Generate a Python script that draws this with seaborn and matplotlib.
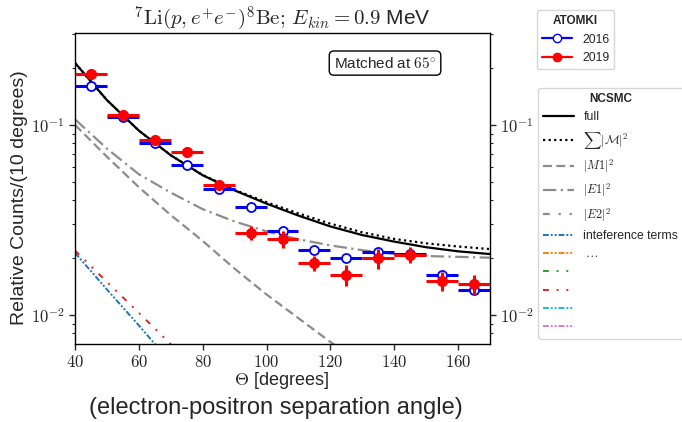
import numpy as np
import pandas as pd
import matplotlib
matplotlib.use("Agg")
import matplotlib.pyplot as plt
from matplotlib.lines import Line2D
from matplotlib.ticker import FuncFormatter, LogLocator, NullFormatter, FixedLocator
import seaborn as sns

# ---------------- data ----------------
theta_data = [45, 55, 65, 75, 85, 95, 105, 115, 125, 135, 145, 155, 165]
theta_halfwidth = [5] * 13
atomki_2016 = [0.160, 0.110, 0.0804, 0.0617, 0.0460, 0.0370, 0.0277, 0.0220, 0.0200, 0.0215, 0.0210, 0.0162, 0.0135]
atomki_2016_err = [0.004, 0.003, 0.002, 0.0015, 0.0012, 0.001, 0.0008, 0.0007, 0.0006, 0.0006, 0.0006, 0.0005, 0.0004]
atomki_2019 = [0.185, 0.113, 0.0834, 0.0721, 0.0483, 0.0270, 0.0251, 0.0188, 0.0162, 0.0199, 0.0207, 0.0151, 0.0145]
atomki_2019_err = [0.005, 0.003, 0.003, 0.003, 0.0025, 0.0023, 0.0025, 0.0017, 0.002, 0.0024, 0.002, 0.0018, 0.0018]

theta_curve = [40, 50, 60, 70, 80, 90, 100, 110, 120, 130, 140, 150, 160, 170]
full = [0.212, 0.135, 0.0933, 0.0692, 0.0543, 0.0452, 0.0385, 0.0333, 0.0292, 0.0263, 0.0243, 0.0227, 0.0216, 0.0209]
sum_m2 = [0.212, 0.135, 0.0933, 0.0692, 0.0545, 0.0455, 0.0392, 0.0342, 0.0302, 0.0272, 0.0251, 0.0238, 0.0229, 0.0222]
m1 = [0.100, 0.068, 0.047, 0.0335, 0.0245, 0.0175, 0.0128, 0.0096, 0.0072, 0.0055, 0.0043, 0.0034, 0.0027, 0.0022]
e1 = [0.107, 0.075, 0.055, 0.044, 0.036, 0.031, 0.0275, 0.025, 0.0232, 0.0219, 0.0209, 0.0204, 0.0202, 0.0200]

theta_interf = [40, 50, 60, 70, 80]
interf_blue = [0.0212, 0.0136, 0.0088, 0.0056, 0.0036]
interf_red = [0.0218, 0.0149, 0.01025, 0.0070, 0.0048]

ncsmc_labels = ["full", r"$\sum|\mathcal{M}|^2$", r"$|M1|^2$", r"$|E1|^2$", r"$|E2|^2$",
                "inteference terms", r"$\dots$", "", "", "", ""]

# ---------------- style ----------------
sns.set_style("ticks")
plt.rcParams["font.family"] = ["Liberation Sans", "DejaVu Sans"]
plt.rcParams["mathtext.fontset"] = "cm"

fig = plt.figure(figsize=(6.82, 4.22), dpi=100)
ax = fig.add_axes([0.110, 0.185, 0.6085, 0.737])

curves = pd.DataFrame({"theta": theta_curve, "full": full, "sum": sum_m2, "m1": m1, "e1": e1})
interf = pd.DataFrame({"theta": theta_interf, "blue": interf_blue, "red": interf_red})

gray = "#8c8c8c"
sns.lineplot(data=curves, x="theta", y="full", ax=ax, color="black", lw=1.6, zorder=3)
h_full = ax.lines[-1]
sns.lineplot(data=curves, x="theta", y="sum", ax=ax, color="black", lw=1.6, linestyle=(0, (1, 1.5)), zorder=3)
h_sum = ax.lines[-1]
sns.lineplot(data=curves, x="theta", y="m1", ax=ax, color=gray, lw=1.6, linestyle=(0, (4, 2)), zorder=2)
h_m1 = ax.lines[-1]
sns.lineplot(data=curves, x="theta", y="e1", ax=ax, color=gray, lw=1.6, linestyle=(0, (6, 2, 1, 2)), zorder=2)
h_e1 = ax.lines[-1]
sns.lineplot(data=interf, x="theta", y="blue", ax=ax, color="tab:blue", lw=1.4, linestyle=(0, (3, 1, 1, 1, 1, 1)), zorder=2)
h_ib = ax.lines[-1]
sns.lineplot(data=interf, x="theta", y="red", ax=ax, color="tab:red", lw=1.4, linestyle=(0, (3, 4, 1, 4, 1, 4)), zorder=2)
h_ir = ax.lines[-1]

ax.errorbar(theta_data, atomki_2016, xerr=theta_halfwidth, yerr=atomki_2016_err, fmt="o",
            color="blue", mfc="white", mec="blue", ms=6.5, mew=1.3, elinewidth=2.2, capsize=0, zorder=4)
ax.errorbar(theta_data, atomki_2019, xerr=theta_halfwidth, yerr=atomki_2019_err, fmt="o",
            color="red", mfc="red", mec="red", ms=7, elinewidth=2.2, capsize=0, zorder=5)

ax.set_yscale("log")
ax.set_xlim(40, 170)
ax.set_ylim(0.00703, 0.305)
ax.set_xlabel("")
ax.set_ylabel("Relative Counts/(10 degrees)", fontsize=14)
ax.yaxis.set_label_coords(-0.113, 0.47)

ax.xaxis.set_major_locator(FixedLocator([40, 60, 80, 100, 120, 140, 160]))
ax.xaxis.set_major_formatter(FuncFormatter(lambda v, p: r"$%d$" % int(round(v))))
ax.yaxis.set_major_locator(LogLocator(base=10))
ax.yaxis.set_major_formatter(FuncFormatter(lambda v, p: r"$10^{%d}$" % int(round(np.log10(v)))))
ax.yaxis.set_minor_locator(LogLocator(base=10, subs=np.arange(2, 10)))
ax.yaxis.set_minor_formatter(NullFormatter())
ax.tick_params(axis="both", which="major", labelsize=12, length=4, width=1, direction="out")
ax.tick_params(axis="y", which="both", right=True, labelright=True)
ax.tick_params(axis="y", which="minor", length=2.5, width=0.8)
for s in ax.spines.values():
    s.set_visible(True)
    s.set_linewidth(1.0)
    s.set_color("black")

ax.set_title(r"$^{7}\mathrm{Li}(p,e^{+}e^{-})^{8}\mathrm{Be};\,E_{kin}=0.9$ MeV", fontsize=15, pad=6)
ax.text(0.747, 0.903, r"Matched at $65^{\circ}$", transform=ax.transAxes, ha="center", va="center",
        fontsize=11, bbox=dict(boxstyle="round,pad=0.3", fc="white", ec="black", lw=1))

fig.text(0.413, 0.098, r"$\Theta$ [degrees]", ha="center", va="center", fontsize=13)
fig.text(0.405, 0.033, "(electron-positron separation angle)", ha="center", va="center", fontsize=17)

# ---------------- legends ----------------
h16 = Line2D([], [], color="blue", marker="o", mfc="white", mec="blue", ms=6, lw=1.6)
h19 = Line2D([], [], color="red", marker="o", mfc="red", mec="red", ms=6, lw=1.6)
leg1 = fig.legend([h16, h19], ["2016", "2019"], loc="upper left", bbox_to_anchor=(0.787, 0.976),
                  bbox_transform=fig.transFigure, borderaxespad=0, fontsize=8.8,
                  title="ATOMKI", title_fontproperties={"weight": "bold", "size": 8.5},
                  handlelength=2.5, handletextpad=0.8, labelspacing=0.55)

h_e2 = Line2D([], [], color=gray, lw=1.6, linestyle=(0, (3, 4, 1, 4, 1, 4)))
h_or = Line2D([], [], color="tab:orange", lw=1.4, linestyle=(0, (3, 1, 1, 1, 1, 1)))
h_gr = Line2D([], [], color="tab:green", lw=1.4, linestyle=(0, (3, 4, 1, 4, 1, 4)))
h_cy = Line2D([], [], color="tab:cyan", lw=1.4, linestyle=(0, (3, 1, 1, 1, 1, 1)))
h_pk = Line2D([], [], color="tab:pink", lw=1.4, linestyle=(0, (3, 1, 1, 1, 1, 1)))
ncsmc_handles = [h_full, h_sum, h_m1, h_e1, h_e2, h_ib, h_or, h_gr, h_ir, h_cy, h_pk]
leg2 = fig.legend(ncsmc_handles, ncsmc_labels, loc="upper left", bbox_to_anchor=(0.789, 0.7915),
                  bbox_transform=fig.transFigure, borderaxespad=0, fontsize=8.8,
                  title="NCSMC", title_fontproperties={"weight": "bold", "size": 8.5},
                  handlelength=2.5, handletextpad=0.8, labelspacing=0.52)

fig.savefig("out.png", dpi=100)
